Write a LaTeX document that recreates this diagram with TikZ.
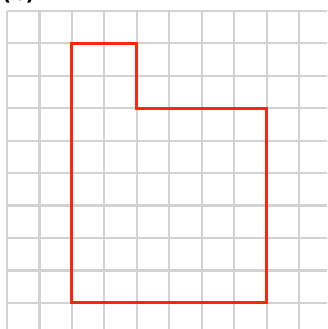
\documentclass[tikz,border=0pt]{standalone}
\usepackage{fontspec}
\setmainfont{DejaVu Sans}
\begin{document}
\begin{tikzpicture}[x=1pt,y=-1pt,
  gridline/.style={draw={rgb,255:red,210;green,210;blue,210},line width=2.2pt},
  redoutline/.style={draw={rgb,255:red,255;green,36;blue,16},line width=3pt,line join=miter}]
\useasboundingbox (0,0) rectangle (327,329);
\begin{scope}
\clip (0,0) rectangle (327,329);
\foreach \i in {0,...,9}{
  \draw[gridline] ({7+32.45*\i},10.8) -- ({7+32.45*\i},335);
  \draw[gridline] (7,{10.8+32.45*\i}) -- (335,{10.8+32.45*\i});
}
\coordinate (p1) at (71.9,43.25);
\coordinate (p2) at (136.8,43.25);
\coordinate (p3) at (136.8,108.15);
\coordinate (p4) at (266.6,108.15);
\coordinate (p5) at (266.6,302.85);
\coordinate (p6) at (71.9,302.85);
\draw[redoutline] (p1) -- (p2) -- (p3) -- (p4) -- (p5) -- (p6) -- cycle;
\node[anchor=base west,inner sep=0pt,font=\bfseries\fontsize{20}{20}\selectfont] (lbl) at (2,1) {(b)};
\end{scope}
\end{tikzpicture}
\end{document}
